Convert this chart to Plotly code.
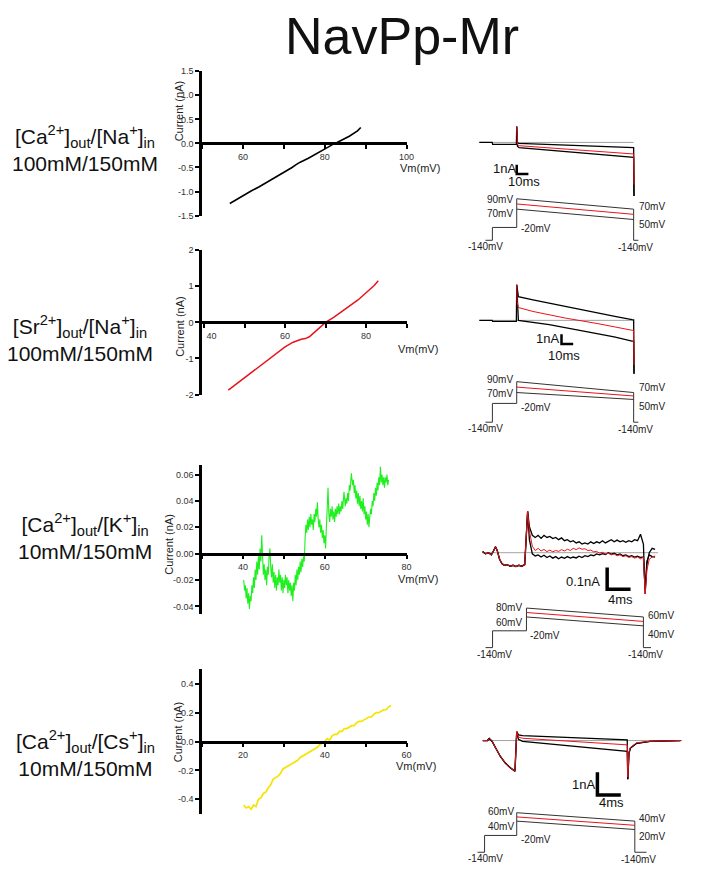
import numpy as np
import plotly.graph_objects as go

W, H = 705, 879
FONT = "Liberation Sans, Arial, Helvetica, sans-serif"

TITLE = "NavPp-Mr"
ROW_ION = ["[Ca<sup>2+</sup>]<sub>out</sub>/[Na<sup>+</sup>]<sub>in</sub>",
           "[Sr<sup>2+</sup>]<sub>out</sub>/[Na<sup>+</sup>]<sub>in</sub>",
           "[Ca<sup>2+</sup>]<sub>out</sub>/[K<sup>+</sup>]<sub>in</sub>",
           "[Ca<sup>2+</sup>]<sub>out</sub>/[Cs<sup>+</sup>]<sub>in</sub>"]
ROW_CONC = ["100mM/150mM", "100mM/150mM", "10mM/150mM", "10mM/150mM"]
Y_TITLE = "Current (nA)"
X_TITLE = "Vm(mV)"

# ---------------- I-V curves ----------------
iv1_vm = [56.8, 58, 60, 62, 64, 66, 68, 70, 72, 73, 74, 76, 78, 80, 82, 83, 84, 86, 88, 88.8]
iv1_i = [-1.25, -1.19, -1.08, -0.99, -0.90, -0.80, -0.71, -0.60, -0.50, -0.44, -0.39, -0.31,
         -0.21, -0.11, -0.02, 0.02, 0.06, 0.15, 0.26, 0.33]

iv2_vm = [46, 48, 50, 52, 54, 56, 58, 60, 62, 63, 64, 65, 66, 68, 70, 72, 74, 76, 78, 80, 82, 83]
iv2_i = [-1.88, -1.71, -1.54, -1.37, -1.19, -1.01, -0.84, -0.68, -0.55, -0.50, -0.47, -0.45,
         -0.40, -0.20, 0.0, 0.14, 0.30, 0.45, 0.62, 0.82, 1.02, 1.15]

iv3_vm = [40.2, 40.4, 40.6, 40.8, 41.0, 41.2, 41.4, 41.6, 41.8, 42.0,
          42.2, 42.4, 42.6, 42.8, 43.0, 43.2, 43.4, 43.6, 43.8, 44.0,
          44.2, 44.4, 44.6, 44.8, 45.0, 45.2, 45.4, 45.6, 45.8, 46.0,
          46.2, 46.4, 46.6, 46.8, 47.0, 47.2, 47.4, 47.6, 47.8, 48.0,
          48.2, 48.4, 48.6, 48.8, 49.0, 49.2, 49.4, 49.6, 49.8, 50.0,
          50.2, 50.4, 50.6, 50.8, 51.0, 51.2, 51.4, 51.6, 51.8, 52.0,
          52.2, 52.4, 52.6, 52.8, 53.0, 53.2, 53.4, 53.6, 53.8, 54.0,
          54.2, 54.4, 54.6, 54.8, 55.0, 55.2, 55.4, 55.6, 55.8, 56.0,
          56.2, 56.4, 56.6, 56.8, 57.0, 57.2, 57.4, 57.6, 57.8, 58.0,
          58.2, 58.4, 58.6, 58.8, 59.0, 59.2, 59.4, 59.6, 59.8, 60.0,
          60.2, 60.4, 60.6, 60.8, 61.0, 61.2, 61.4, 61.6, 61.8, 62.0,
          62.2, 62.4, 62.6, 62.8, 63.0, 63.2, 63.4, 63.6, 63.8, 64.0,
          64.2, 64.4, 64.7, 65.0, 65.2, 65.4, 65.6, 65.8, 66.0, 66.2,
          66.5, 66.8, 67.0, 67.2, 67.4, 67.6, 67.8, 68.0, 68.2, 68.4,
          68.6, 68.8, 69.0, 69.2, 69.4, 69.6, 69.8, 70.0, 70.2, 70.4,
          70.6, 70.8, 71.0, 71.2, 71.4, 71.6, 71.8, 72.0, 72.2, 72.4,
          72.6, 72.8, 73.0, 73.2, 73.4, 73.6, 73.8, 74.0, 74.2, 74.4,
          74.6, 74.8, 75.0, 75.2, 75.4, 75.6]
iv3_i = [-0.020, -0.028, -0.024, -0.034, -0.026, -0.038, -0.030, -0.042, -0.032, -0.036,
         -0.024, -0.030, -0.018, -0.026, -0.012, -0.020, -0.006, -0.016, -0.002, -0.012,
         0.004, -0.006, 0.014, -0.004, -0.016, -0.008, -0.020, -0.012, -0.024, -0.010,
         -0.016, -0.002, 0.004, -0.010, -0.018, -0.008, -0.022, -0.014, -0.026, -0.016,
         -0.028, -0.018, -0.024, -0.012, -0.022, -0.016, -0.028, -0.018, -0.030, -0.020,
         -0.026, -0.016, -0.024, -0.018, -0.030, -0.020, -0.028, -0.022, -0.032, -0.024,
         -0.036, -0.022, -0.028, -0.016, -0.024, -0.012, -0.020, -0.010, -0.016, -0.006,
         -0.014, -0.004, -0.010, -0.002, -0.006, 0.012, 0.022, 0.016, 0.026, 0.018,
         0.028, 0.020, 0.030, 0.022, 0.026, 0.018, 0.030, 0.024, 0.034, 0.028,
         0.039, 0.026, 0.020, 0.026, 0.016, 0.022, 0.012, 0.018, 0.008, 0.014,
         0.004, 0.020, 0.034, 0.050, 0.030, 0.024, 0.034, 0.028, 0.036, 0.026,
         0.032, 0.024, 0.034, 0.028, 0.036, 0.030, 0.038, 0.030, 0.036, 0.032,
         0.040, 0.034, 0.047, 0.036, 0.042, 0.038, 0.046, 0.040, 0.052, 0.048,
         0.061, 0.052, 0.056, 0.046, 0.052, 0.042, 0.048, 0.038, 0.046, 0.036,
         0.044, 0.034, 0.040, 0.032, 0.042, 0.030, 0.036, 0.026, 0.032, 0.022,
         0.030, 0.020, 0.028, 0.034, 0.030, 0.040, 0.036, 0.046, 0.040, 0.050,
         0.044, 0.054, 0.048, 0.058, 0.052, 0.066, 0.054, 0.060, 0.052, 0.058,
         0.050, 0.058, 0.054, 0.060, 0.052, 0.056]

iv4_vm = [20.2, 20.8, 21.4, 22.0, 22.6, 23.2, 23.8, 24.4, 25.0, 25.6,
          26.2, 26.8, 27.4, 28.0, 28.6, 29.2, 29.8, 30.4, 31.0, 31.6,
          32.2, 32.8, 33.4, 34.0, 34.6, 35.2, 35.8, 36.4, 37.0, 37.6,
          38.2, 38.8, 39.4, 40.0, 40.6, 41.2, 41.8, 42.4, 43.0, 43.6,
          44.2, 44.8, 45.4, 46.0, 46.6, 47.2, 47.8, 48.4, 49.0, 49.6,
          50.2, 50.8, 51.4, 52.0, 52.6, 53.2, 53.8, 54.4, 55.0, 55.6, 56.2]
iv4_i = [-0.44, -0.46, -0.45, -0.47, -0.44, -0.45, -0.40, -0.39, -0.36, -0.35,
         -0.32, -0.30, -0.26, -0.25, -0.24, -0.22, -0.19, -0.18, -0.17, -0.16,
         -0.15, -0.14, -0.13, -0.11, -0.10, -0.09, -0.08, -0.07, -0.06, -0.05,
         -0.04, -0.02, -0.01, 0.00, 0.02, 0.01, 0.04, 0.05, 0.05, 0.07,
         0.07, 0.09, 0.09, 0.10, 0.11, 0.11, 0.13, 0.14, 0.14, 0.15,
         0.16, 0.17, 0.17, 0.19, 0.20, 0.20, 0.21, 0.22, 0.22, 0.24, 0.25]

NB = "\u00a0"
iv_xticks = [[60, 80, 100], [40, 60, 80], [40, 60, 80], [20, 40, 60]]
iv_xlabels = [["60", "80", "100"], [NB * 6 + "40", "60", "80"], ["40", "60", "80"], ["20", "40", "60"]]
iv_xminor = [[50, 70, 90], [50, 70, 90], [30, 50, 70], [10, 30, 50]]
iv_yticks = [[-1.5, -1.0, -0.5, 0, 0.5, 1.0, 1.5], [-2, -1, 0, 1, 2],
             [-0.04, -0.02, 0, 0.02, 0.04, 0.06], [-0.4, -0.2, 0, 0.2, 0.4]]
iv_ylabels = [["-1.5", "-1.0", "-0.5", "0.0", "0.5", "1.0", "1.5"],
              ["-2", "-1", "0", "1", "2"],
              ["-0.04", "-0.02", "0.00", "0.02", "0.04", "0.06"],
              ["-0.4", "-0.2", "0.0", "0.2", "0.4"]]

# ---------------- current traces (ms, nA) ----------------
r1_pre_t = [-32, -21, -20.6, -0.3, 0.0]
r1_pre_i = [0.0, 0.0, -0.2, -0.2, 1.7]
r1_t = [0.6, 2, 100, 100.3]
r1_top = [-0.05, -0.1, -0.56, -5.7]
r1_mid = [-0.2, -0.35, -1.23, -4.5]
r1_bot = [-0.4, -0.56, -1.6, -5.7]

r2_pre_t = [-32, -21, -20.6, -0.3, 0.0]
r2_pre_i = [0.0, 0.0, -0.1, -0.1, 3.6]
r2_t_top = [1.4, 13.9, 27, 41.7, 55, 69.4, 85, 98.6, 100, 100.3]
r2_top = [2.4, 2.07, 1.75, 1.4, 1.05, 0.73, 0.38, 0.07, 0.05, -5.4]
r2_t_mid = [0.3, 1.4, 13.9, 41.7, 69.4, 98.6, 100, 100.3]
r2_mid = [1.9, 1.3, 0.9, 0.23, -0.33, -1.0, -1.0, -4.5]
r2_t_bot = [1.4, 27.8, 55.6, 83.3, 98.6, 100, 100.3]
r2_bot = [0.0, -0.43, -1.03, -1.67, -2.1, -2.1, -5.4]

r3_pre_t = [-7.5, -7.0, -6.5, -6.0, -5.6, -5.3, -5.0, -4.6, -4.2, -3.8, -3.3, -2.8, -2.3,
            -1.8, -1.3, -0.8, -0.3, 0.0, 0.2]
r3_pre_i = [0.005, -0.005, 0.0, -0.01, 0.01, 0.027, 0.01, -0.03, -0.05, -0.058, -0.055,
            -0.062, -0.058, -0.064, -0.058, -0.062, -0.055, 0.1, 0.19]
r3_t = [0.5, 1, 1.5, 2, 2.5, 3, 3.5, 4, 4.5, 5, 5.5, 6, 6.5, 7, 7.5, 8, 8.5, 9, 9.5, 10,
        10.5, 11, 11.5, 12, 12.5, 13, 13.5, 14, 14.5, 15, 15.5, 16, 16.5, 17, 17.5, 18, 18.5,
        19, 19.5, 20, 20.3, 20.6, 21, 21.5, 22]
r3_top = [0.12, 0.08, 0.07, 0.08, 0.066, 0.08, 0.07, 0.075, 0.065, 0.07, 0.06, 0.068, 0.055,
          0.06, 0.05, 0.055, 0.045, 0.05, 0.04, 0.045, 0.04, 0.05, 0.042, 0.05, 0.045, 0.055,
          0.045, 0.052, 0.06, 0.05, 0.058, 0.05, 0.055, 0.048, 0.055, 0.05, 0.06, 0.055,
          0.085, 0.04, -0.19, -0.05, 0.0, 0.02, 0.015]
r3_mid = [0.10, 0.03, 0.01, 0.02, 0.008, 0.015, 0.005, 0.012, 0.004, 0.01, 0.006, 0.014,
          0.008, 0.016, 0.01, 0.02, 0.014, 0.022, 0.016, 0.018, 0.01, 0.012, 0.004, 0.006,
          -0.002, 0.002, -0.006, -0.002, -0.01, -0.006, -0.014, -0.01, -0.018, -0.014,
          -0.022, -0.018, -0.025, -0.02, -0.028, -0.02, -0.19, -0.08, -0.03, -0.02, -0.015]
r3_bot = [0.06, -0.005, -0.015, -0.01, -0.02, -0.012, -0.022, -0.015, -0.025, -0.018,
          -0.028, -0.02, -0.026, -0.018, -0.025, -0.02, -0.024, -0.016, -0.022, -0.014,
          -0.018, -0.01, -0.014, -0.006, -0.01, -0.004, -0.008, 0.0, -0.006, -0.002, -0.01,
          -0.006, -0.014, -0.01, -0.018, -0.014, -0.02, -0.016, -0.022, -0.02, -0.17, -0.04,
          -0.01, -0.018, -0.02]

r4_pre_t = [-5.8, -5.0, -4.7, -4.2, -3.6, -2.8, -1.95, -1.1, -0.3, 0.0]
r4_pre_i = [0.0, 0.0, 0.09, -0.04, -0.33, -0.7, -0.99, -1.2, -1.35, 0.39]
r4_t = [0.3, 1.0, 18.9, 19.0, 19.2, 19.45, 20.5, 22.8, 28.0]
r4_top = [0.25, 0.22, 0.03, -1.7, -0.55, -0.33, -0.12, -0.04, 0.0]
r4_mid = [0.15, 0.10, -0.19, -1.6, -0.5, -0.3, -0.1, -0.03, 0.0]
r4_bot = [0.05, -0.04, -0.48, -1.7, -0.55, -0.33, -0.12, -0.04, 0.0]

baseline_t = [[-32, 100], [-32, 100], [-7.5, 22.5], [-5.8, 28.3]]

# scale bars
bar_amp = [1, 1, 0.1, 1]
bar_ms = [10, 10, 4, 4]
bar_amp_label = ["1nA", "1nA", "0.1nA", "1nA"]
bar_ms_label = ["10ms", "10ms", "4ms", "4ms"]

# ---------------- voltage protocols (ms, mV) ----------------
hold_mv = -140
pre_mv = -20
ramp_start = [[90, 80, 70], [90, 80, 70], [80, 70, 60], [60, 50, 40]]
ramp_end = [[70, 60, 50], [70, 60, 50], [60, 50, 40], [40, 30, 20]]
proto_t_hold = [-26.7, -26.7, -7.0, -6.7]
proto_t_pre = [-20.8, -20.8, -5.8, -5.5]
proto_t_end = [100, 100, 20, 20.2]
proto_t_after = [104, 104, 21.3, 22.2]

# ---------------- layout helpers ----------------
def fx(p):
    return p / W


def fy(p):
    return 1 - p / H


fig = go.Figure()
layout = dict(width=W, height=H, margin=dict(l=0, r=0, t=0, b=0),
              paper_bgcolor="white", plot_bgcolor="rgba(0,0,0,0)", showlegend=False,
              hovermode=False, font=dict(family=FONT, color="#111"))
annotations = []


def ann(text, x, y, size, xanchor="center", yanchor="middle", angle=0, color="#111"):
    annotations.append(dict(text=text, x=fx(x), y=fy(y), xref="paper", yref="paper",
                            xanchor=xanchor, yanchor=yanchor, showarrow=False,
                            textangle=angle, font=dict(size=size, color=color, family=FONT)))


def ax_names(n):
    return ("xaxis" if n == 1 else f"xaxis{n}", "yaxis" if n == 1 else f"yaxis{n}",
            "x" if n == 1 else f"x{n}", "y" if n == 1 else f"y{n}")


# title and row labels (two lines per label)
ann(TITLE, 402, 0, 52, yanchor="top")
row_label_pos = [(77, 145), (72, 337), (77, 538), (77, 757)]
for k in range(4):
    cx, cy = row_label_pos[k]
    ann(ROW_ION[k] + "<br>" + ROW_CONC[k], cx, cy, 21)

# ---------------- I-V panels ----------------
iv_data = [(iv1_vm, iv1_i, "#000000", 1.6), (iv2_vm, iv2_i, "#e8141b", 1.5),
           (iv3_vm, iv3_i, "#1ef01e", 1.1), (iv4_vm, iv4_i, "#f5e400", 1.7)]
iv_box = [dict(top=67, bottom=213, xr=[50, 100], yr=[-1.5, 1.5], yt=(173, 107), vm=(398, 165)),
          dict(top=248, bottom=394, xr=[39.5, 90], yr=[-2, 2], yt=(175, 325), vm=(396, 348)),
          dict(top=465.7, bottom=616.3, xr=[30, 80], yr=[-0.046, 0.067], yt=(163, 545), vm=(396, 581)),
          dict(top=672, bottom=818, xr=[10, 60], yr=[-0.5, 0.5], yt=(172, 735), vm=(394, 770))]

for k in range(4):
    n = k + 1
    xa, ya, xr_, yr_ = ax_names(n)
    b = iv_box[k]
    zero_px = b["top"] + (b["yr"][1] - 0) / (b["yr"][1] - b["yr"][0]) * (b["bottom"] - b["top"])
    layout[xa] = dict(domain=[fx(197), fx(407)], range=b["xr"], anchor="free",
                      position=fy(zero_px), showline=True, linecolor="black", linewidth=2.5,
                      ticks="outside", ticklen=4, tickwidth=1.5, tickcolor="black",
                      tickvals=iv_xticks[k], ticktext=iv_xlabels[k],
                      minor=dict(tickvals=iv_xminor[k], ticks="outside", ticklen=4,
                                 tickwidth=1.5, tickcolor="black", showgrid=False),
                      tickfont=dict(size=9, color="#333", family=FONT),
                      showgrid=False, zeroline=False, fixedrange=True)
    layout[ya] = dict(domain=[fy(b["bottom"]), fy(b["top"])], range=b["yr"], anchor=xr_,
                      showline=True, linecolor="black", linewidth=2.5,
                      ticks="outside", ticklen=4, tickwidth=1.5, tickcolor="black",
                      tickvals=iv_yticks[k], ticktext=iv_ylabels[k],
                      tickfont=dict(size=9, color="#333", family=FONT),
                      showgrid=False, zeroline=False, fixedrange=True)
    vm, cur, col, lw = iv_data[k]
    fig.add_trace(go.Scatter(x=vm, y=cur, mode="lines", line=dict(color=col, width=lw),
                             xaxis=xr_, yaxis=yr_))
    ann(Y_TITLE, b["yt"][0], b["yt"][1], 11, angle=-90, color="#222")
    ann(X_TITLE, b["vm"][0], b["vm"][1], 11, xanchor="left", color="#222")

# ---------------- right-hand traces ----------------
sweeps = [
    [(r1_pre_t + r1_t, r1_pre_i + r1_top, "#000"), (r1_pre_t[-1:] + r1_t, r1_pre_i[-1:] + r1_bot, "#000"),
     (r1_pre_t[-1:] + r1_t, r1_pre_i[-1:] + r1_mid, "#e8141b")],
    [(r2_pre_t + r2_t_top, r2_pre_i + r2_top, "#000"), (r2_pre_t[-1:] + r2_t_bot, r2_pre_i[-1:] + r2_bot, "#000"),
     (r2_pre_t[-1:] + r2_t_mid, r2_pre_i[-1:] + r2_mid, "#e8141b")],
    [(r3_pre_t + r3_t, r3_pre_i + r3_top, "#000"), (r3_pre_t + r3_t, r3_pre_i + r3_bot, "#000"),
     (r3_pre_t + r3_t, r3_pre_i + r3_mid, "#e8141b")],
    [(r4_pre_t + r4_t, r4_pre_i + r4_top, "#000"), (r4_pre_t + r4_t, r4_pre_i + r4_bot, "#000"),
     (r4_pre_t + r4_t, r4_pre_i + r4_mid, "#e8141b")],
]

right_cfg = [
    dict(x0=520, ppms=1.2, y0=139, ppna=9.5, ytop=100, ybot=200, bar=(0, -3.37), bw=2.5,
         amp_lab=(507, 165), ms_lab=(527, 179),
         knots_mv=[-140, -20, 50, 90], knots_px=[238, 225, 217, 196],
         labels=[("90mV", 518, 197, "right"), ("70mV", 518, 211, "right"),
                 ("-20mV", 522, 226, "left"), ("-140mV", 488, 244, "center"),
                 ("70mV", 643, 204, "left"), ("50mV", 643, 222, "left"),
                 ("-140mV", 642, 245, "center")]),
    dict(x0=520, ppms=1.2, y0=319, ppna=10, ytop=270, ybot=380, bar=(38.3, -2.4), bw=2.5,
         amp_lab=(552, 337), ms_lab=(569, 355),
         knots_mv=[-140, -20, 50, 70, 90], knots_px=[422, 403, 399, 392, 381],
         labels=[("90mV", 518, 379, "right"), ("70mV", 518, 393, "right"),
                 ("-20mV", 522, 407, "left"), ("-140mV", 488, 428, "center"),
                 ("70mV", 643, 387, "left"), ("50mV", 643, 406, "left"),
                 ("-140mV", 642, 429, "center")]),
    dict(x0=530, ppms=6, y0=554, ppna=220, ytop=500, ybot=605, bar=(13.8, -0.168), bw=3.5,
         amp_lab=(588, 583), ms_lab=(626, 601),
         knots_mv=[-140, -20, 40, 60, 80], knots_px=[650, 633, 628, 619, 610],
         labels=[("80mV", 527, 609, "right"), ("60mV", 527, 625, "right"),
                 ("-20mV", 532, 638, "left"), ("-140mV", 497, 657, "center"),
                 ("60mV", 653, 618, "left"), ("40mV", 653, 637, "left"),
                 ("-140mV", 652, 657, "center")]),
    dict(x0=520, ppms=6, y0=744, ppna=23, ytop=720, ybot=812, bar=(13.8, -2.39), bw=3.5,
         amp_lab=(589, 788), ms_lab=(617, 807),
         knots_mv=[-140, -20, 20, 40, 60], knots_px=[857, 840, 834, 825.5, 817],
         labels=[("60mV", 519, 816, "right"), ("40mV", 519, 831, "right"),
                 ("-20mV", 522, 844, "left"), ("-140mV", 488, 863, "center"),
                 ("40mV", 643, 823, "left"), ("20mV", 643, 841, "left"),
                 ("-140mV", 645, 864, "center")]),
]

for r in range(4):
    c = right_cfg[r]
    nt, npr = 5 + r, 9 + r
    xr = [(460 - c["x0"]) / c["ppms"], (705 - c["x0"]) / c["ppms"]]
    yr = [(c["y0"] - c["ybot"]) / c["ppna"], (c["y0"] - c["ytop"]) / c["ppna"]]
    layout[f"xaxis{nt}"] = dict(domain=[fx(460), 1], range=xr, visible=False, anchor=f"y{nt}", fixedrange=True)
    layout[f"yaxis{nt}"] = dict(domain=[fy(c["ybot"]), fy(c["ytop"])], range=yr, visible=False,
                                anchor=f"x{nt}", fixedrange=True)
    layout[f"xaxis{npr}"] = dict(domain=[fx(460), 1], range=xr, visible=False, anchor=f"y{npr}", fixedrange=True)
    layout[f"yaxis{npr}"] = dict(domain=[0, 1], range=[H, 0], visible=False, anchor=f"x{npr}", fixedrange=True)

    fig.add_trace(go.Scatter(x=baseline_t[r], y=[0, 0], mode="lines",
                             line=dict(color="#8a8a8a", width=0.8), xaxis=f"x{nt}", yaxis=f"y{nt}"))
    for t, i, col in sweeps[r]:
        fig.add_trace(go.Scatter(x=t, y=i, mode="lines",
                                 line=dict(color=col, width=1.3 if col == "#000" else 1.0),
                                 xaxis=f"x{nt}", yaxis=f"y{nt}"))
    tb, yb = c["bar"]
    fig.add_trace(go.Scatter(x=[tb, tb, tb + bar_ms[r]], y=[yb + bar_amp[r], yb, yb], mode="lines",
                             line=dict(color="#000", width=c["bw"]), xaxis=f"x{nt}", yaxis=f"y{nt}"))
    ann(bar_amp_label[r], c["amp_lab"][0], c["amp_lab"][1], 13, color="#111")
    ann(bar_ms_label[r], c["ms_lab"][0], c["ms_lab"][1], 13, color="#111")

    def disp(v, c=c):
        return list(np.interp(v, c["knots_mv"], c["knots_px"]))
    t_path = [proto_t_hold[r], proto_t_pre[r], proto_t_pre[r], 0, 0, proto_t_end[r],
              proto_t_end[r], proto_t_after[r]]
    v_path = [hold_mv, hold_mv, pre_mv, pre_mv, ramp_start[r][0], ramp_end[r][0], hold_mv, hold_mv]
    fig.add_trace(go.Scatter(x=t_path, y=disp(v_path), mode="lines",
                             line=dict(color="#333", width=1), xaxis=f"x{npr}", yaxis=f"y{npr}"))
    fig.add_trace(go.Scatter(x=[0, proto_t_end[r]], y=disp([ramp_start[r][2], ramp_end[r][2]]),
                             mode="lines", line=dict(color="#333", width=1),
                             xaxis=f"x{npr}", yaxis=f"y{npr}"))
    fig.add_trace(go.Scatter(x=[0, proto_t_end[r]], y=disp([ramp_start[r][1], ramp_end[r][1]]),
                             mode="lines", line=dict(color="#e8141b", width=1),
                             xaxis=f"x{npr}", yaxis=f"y{npr}"))
    for txt, x, y, anc in c["labels"]:
        ann(txt, x, y, 10, xanchor=anc, color="#222")

layout["annotations"] = annotations
fig.update_layout(**layout)
fig.write_html("out.html", config={"displayModeBar": False},
               post_script="document.body.style.margin='0px';")
